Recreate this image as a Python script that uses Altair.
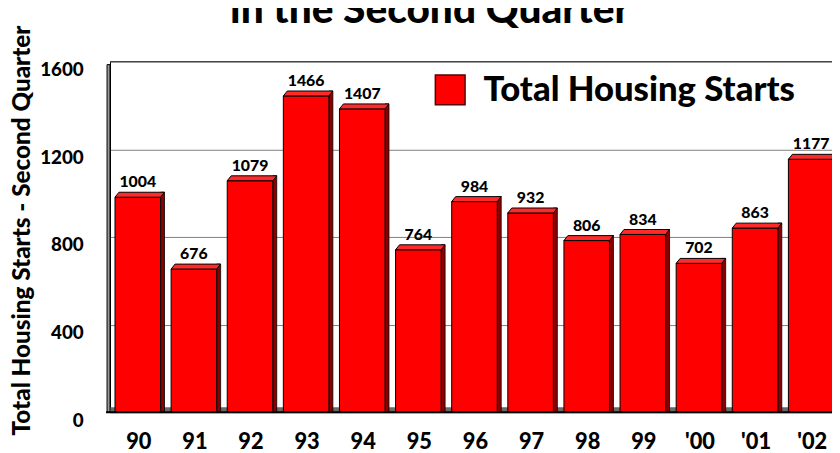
import altair as alt
import pandas as pd

# ---- data ----
years = ["90", "91", "92", "93", "94", "95", "96", "97", "98", "99", "'00", "'01", "'02"]
starts = [1004, 676, 1079, 1466, 1407, 764, 984, 932, 806, 834, 702, 863, 1177]
series_name = ["Total Housing Starts"] * len(years)
y_ticks = [0, 400, 800, 1200, 1600]
title_text = "in the Second Quarter"
y_title = "Total Housing Starts - Second Quarter"

df = pd.DataFrame({"year": years, "starts": starts, "series": series_name})
one = pd.DataFrame({"k": [0]})

FONT = "Lato"
WEIGHT = 900
W, H = 729, 354
XR = 740  # band range continues past the right edge (chart is cut off)

x_scale = alt.Scale(domain=years, range=[0, XR], paddingInner=0, paddingOuter=0.03)
y_scale = alt.Scale(domain=[0, 1600], nice=False, zero=True)

x_axis = alt.Axis(
    title=None, domain=False, ticks=False, labelAngle=0,
    labelFont=FONT, labelFontWeight=WEIGHT, labelFontSize=22, labelColor="black",
    labelPadding=20, labelOffset=-1,
)
y_axis = alt.Axis(
    title=y_title, values=y_ticks, format="d", grid=True, gridColor="#808080", gridWidth=1,
    domain=True, domainColor="black", domainWidth=1, ticks=False,
    labelFont=FONT, labelFontWeight=WEIGHT, labelFontSize=19, labelColor="black",
    labelPadding=27, labelOffset=8,
    titleFont=FONT, titleFontWeight=WEIGHT, titleFontSize=24.5, titleColor="black",
    titleAngle=270, titleAlign="center", titleBaseline="alphabetic",
    titleX=-81, titleY=170,
)

X = alt.X("year:N", scale=x_scale, sort=years, axis=x_axis)
Y = alt.Y("starts:Q", scale=y_scale, axis=y_axis)

base = alt.Chart(df)

# floor of the 3-D plot
floor = alt.Chart(one).mark_rect(color="#6a6a6a", yOffset=-5).encode(
    x=alt.value(-3), x2=alt.value(XR), y=alt.Y(datum=0, scale=y_scale, axis=y_axis), y2=alt.Y2(datum=0)
)
# left wall
wall = alt.Chart(one).mark_rect(color="#9a9a9a", stroke="black", strokeWidth=1, yOffset=3).encode(
    x=alt.value(-3), x2=alt.value(0), y=alt.Y(datum=1600), y2=alt.Y2(datum=0)
)
top_line = alt.Chart(one).mark_rule(color="#333333", strokeWidth=1).encode(
    x=alt.value(0), x2=alt.value(XR), y=alt.Y(datum=1600)
)

side = base.mark_bar(width=4, xOffset=23, color="#8a0000", stroke="black", strokeWidth=0.8).encode(
    x=X, y=Y, y2=alt.Y2(datum=0)
)
front = base.mark_bar(width=46, xOffset=-2, yOffset=5, stroke="black", strokeWidth=1).encode(
    x=X, y=Y, y2=alt.Y2(datum=0),
    color=alt.Color(
        "series:N",
        scale=alt.Scale(range=["#FF0000"]),
        legend=alt.Legend(
            title=None, orient="none", legendX=326, legendY=11, padding=0,
            symbolType="square", symbolSize=900, symbolStrokeColor="#5a0000",
            symbolStrokeWidth=1.5, symbolOpacity=1,
            labelFont=FONT, labelFontWeight=WEIGHT, labelFontSize=35, labelColor="black",
            labelOffset=16, labelLimit=500,
        ),
    ),
)
top_face = base.mark_point(
    shape="M -1 0.1 L 0.84 0.1 L 1 -0.1 L -0.84 -0.1 Z",
    size=2500, filled=True, color="#FF2a2a", stroke="black", strokeWidth=1,
    opacity=1, yOffset=2.5,
).encode(x=X, y=Y)

zero_line = alt.Chart(one).mark_rule(color="black", strokeWidth=2).encode(
    x=alt.value(-4), x2=alt.value(XR), y=alt.Y(datum=0)
)

labels = base.mark_text(
    font=FONT, fontWeight=WEIGHT, fontSize=16, color="black",
    baseline="alphabetic", dy=-5, dx=-2,
).encode(x=X, y=Y, text=alt.Text("starts:Q"))

title = alt.Chart(one).mark_text(
    text=title_text, font=FONT, fontWeight=WEIGHT, fontSize=41, color="black",
    align="center", baseline="alphabetic",
).encode(x=alt.value(323), y=alt.value(-39))

chart = alt.layer(
    floor, top_line, wall, side, front, top_face, zero_line, labels, title
).properties(
    width=W, height=H,
    autosize=alt.AutoSizeParams(type="none"),
    padding={"left": 103, "top": 52, "right": 0, "bottom": 39},
).configure_view(stroke=None).configure(background="white")

chart.save("out.html", embed_options={"renderer": "svg", "actions": False})
